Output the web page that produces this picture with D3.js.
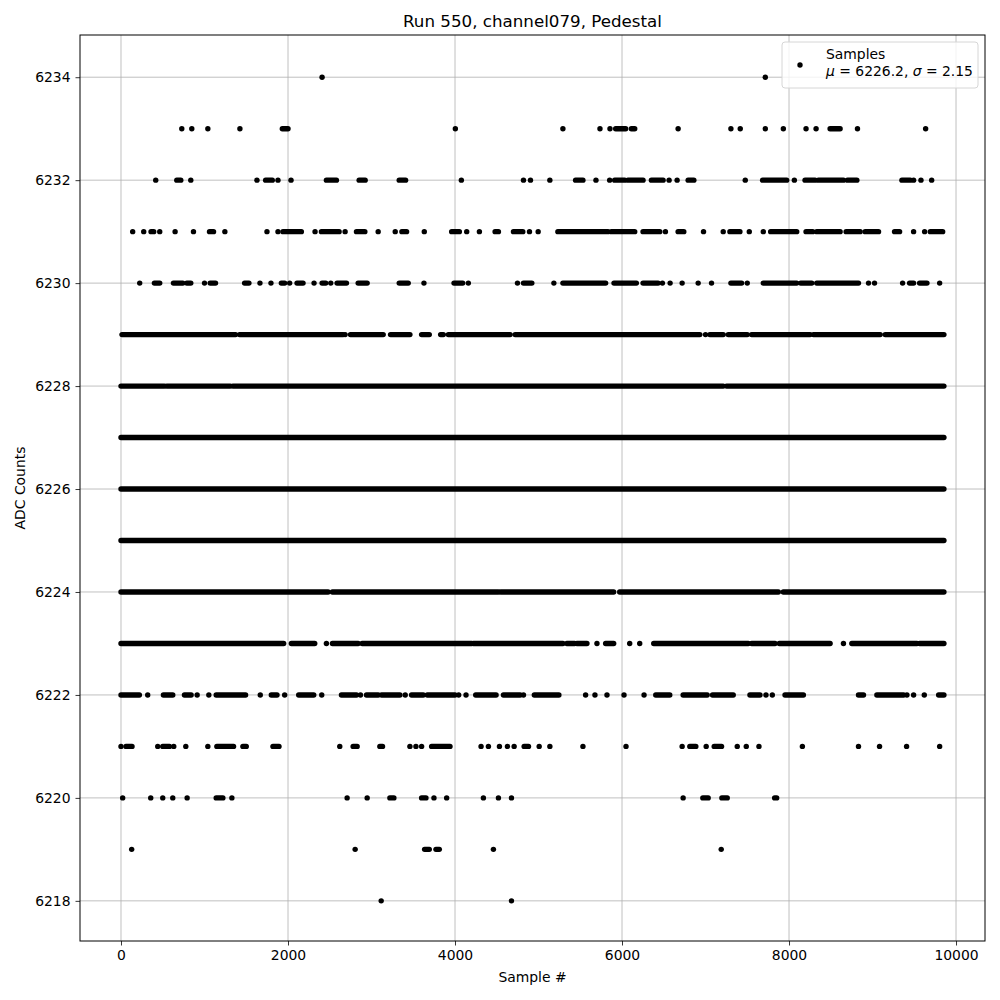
<!DOCTYPE html>
<html>
<head>
<meta charset="utf-8">
<script src="https://cdnjs.cloudflare.com/ajax/libs/d3/7.8.5/d3.min.js"></script>
<style>
  body { margin: 0; background: #fff; }
  svg text { font-family: "DejaVu Sans", sans-serif; fill: #000; }
</style>
</head>
<body>
<div id="chart"></div>
<script>
// samples, one array per ADC level
// a number is a single sample, a pair [a, b] is a run of consecutive samples
var adc6234 = [2408, 7716];
var adc6233 = [728, 848, 1040, 1424, [1932, 2000], 4004, 5292, 5736, 5856, [5924, 6044], [6112, 6152],
  6672, 7304, 7416, 7716, 7932, 8204, 8324, [8492, 8612], 8820, 9636];
var adc6232 = [416, [668, 716], 836, 1628, [1732, 1812], 1880, 2036, [2460, 2580], [2852, 2924], [3332, 3408],
  4076, 4820, 4904, 5136, [5444, 5532], 5688, 5852, [5912, 6032], [6072, 6252], [6352, 6492], 6564, 6660,
  [6792, 6860], 7476, [7684, 7972], 8064, [8192, 8312], [8352, 8652], [8700, 8812], [9352, 9452], 9492, 9580, 9708];
var adc6231 = [140, 272, [360, 392], 464, 648, 868, [1060, 1108], 1244, 1748, 1880, [1940, 2160], 2324,
  [2400, 2612], 2684, [2820, 2920], 3080, 3284, [3364, 3420], 3632, [3960, 4052], 4140, 4292, [4480, 4520],
  [4700, 4812], 4892, 4996, [5232, 5832], [5872, 6152], [6252, 6452], 6520, [6672, 6740], 6976, 7212,
  [7292, 7412], 7524, 7692, [7780, 8092], [8204, 8284], [8332, 8612], [8684, 8852], [8912, 9072],
  [9264, 9324], 9492, 9624, [9692, 9840]];
var adc6230 = [224, [400, 464], [628, 740], [788, 836], 1000, [1068, 1132], [1480, 1532], 1664, 1796,
  [1920, 1960], 2020, [2108, 2180], 2312, [2408, 2452], 2512, [2588, 2700], [2840, 2948], [3332, 3440], 3628,
  [3988, 4092], 4160, 4748, [4820, 4920], 5184, [5292, 5804], [5904, 6172], [6252, 6432], 6484, 6576, 6720,
  6912, 7072, [7304, 7432], 7500, [7692, 8092], [8140, 8272], [8332, 8832], 8952, 9024, 9360, [9444, 9492],
  [9564, 9652], 9804];
var adc6229 = [[12, 1372], [1420, 2660], 2684, [2748, 3140], [3228, 3460], [3600, 3692], [3828, 3860],
  [3920, 4660], [4720, 6932], 7000, [7052, 7212], [7272, 7500], [7552, 8252], [8292, 9092], [9152, 9855]];
var adc6228 = [[0, 520], [548, 1308], [1340, 7212], [7252, 9855]];
var adc6227 = [[0, 9855]];
var adc6226 = [[0, 9855]];
var adc6225 = [[0, 9855]];
var adc6224 = [[0, 2480], [2532, 4520], [4548, 5900], [5972, 7872], [7932, 9855]];
var adc6223 = [[0, 1948], [2040, 2320], 2460, [2532, 2840], [2888, 4200], [4220, 5292], [5340, 5432],
  [5460, 5580], 5700, [5804, 5900], 6092, 6212, [6380, 7512], [7552, 7832], [7884, 8492], 8652,
  [8752, 9532], [9564, 9855]];
var adc6222 = [[0, 220], 320, [508, 620], [760, 840], 912, 1052, [1140, 1492], 1668, [1800, 1868], 1960,
  [2128, 2308], 2404, [2640, 2820], 2868, [2940, 3080], [3120, 3340], 3404, [3480, 3620], [3668, 4000], 4044,
  4132, [4248, 4492], [4580, 4780], 4820, [4950, 5244], 5564, 5676, 5820, 6024, 6264, [6404, 6572],
  [6732, 7020], [7084, 7332], [7532, 7652], 7724, 7800, [7952, 8172], [8832, 8892], [9052, 9372], 9412,
  9492, 9620, [9792, 9855]];
var adc6221 = [0, [60, 132], 440, [500, 580], 632, 776, 1040, [1148, 1348], [1460, 1500], [1820, 1892], 2620,
  [2780, 2828], [3100, 3132], 3460, 3532, 3600, [3720, 3940], 4312, 4400, 4532, 4628, 4708, [4828, 4880],
  5008, 5136, 5532, 6048, 6720, [6812, 6884], 7008, [7104, 7192], 7380, 7488, 7640, 8160, 8832, 9084,
  9408, 9804];
var adc6220 = [20, 356, 500, 620, 792, [1140, 1220], 1328, 2708, 2948, [3220, 3268], [3600, 3652], 3748,
  3900, 4340, 4520, 4676, 6732, [6968, 7032], [7196, 7260], [7828, 7852]];
var adc6219 = [128, 2804, [3636, 3692], [3772, 3812], 4460, 7188];
var adc6218 = [3116, 4676];

var levels = [
  [6234, adc6234], [6233, adc6233], [6232, adc6232], [6231, adc6231], [6230, adc6230],
  [6229, adc6229], [6228, adc6228], [6227, adc6227], [6226, adc6226], [6225, adc6225],
  [6224, adc6224], [6223, adc6223], [6222, adc6222], [6221, adc6221], [6220, adc6220],
  [6219, adc6219], [6218, adc6218]
];

var xTicks = [0, 2000, 4000, 6000, 8000, 10000];
var yTicks = [6218, 6220, 6222, 6224, 6226, 6228, 6230, 6232, 6234];
var titleText = "Run 550, channel079, Pedestal";
var meanVal = "6226.2", sigmaVal = "2.15";

var W = 1000, H = 1000;
var axL = 80, axR = 985, axT = 35, axB = 941;
var r = 2.7;

var x = d3.scaleLinear().domain([-491, 10347]).range([axL, axR]);
var y = d3.scaleLinear().domain([6217.22, 6234.82]).range([axB, axT]);

var svg = d3.select("#chart").append("svg")
    .attr("width", W)
    .attr("height", H);

// grid
svg.append("g").selectAll("line").data(xTicks).enter().append("line")
    .attr("x1", function(d) { return x(d); }).attr("x2", function(d) { return x(d); })
    .attr("y1", axT).attr("y2", axB)
    .attr("stroke", "#b0b0b0").attr("stroke-width", 0.8);
svg.append("g").selectAll("line").data(yTicks).enter().append("line")
    .attr("y1", function(d) { return y(d); }).attr("y2", function(d) { return y(d); })
    .attr("x1", axL).attr("x2", axR)
    .attr("stroke", "#b0b0b0").attr("stroke-width", 0.8);

// flatten runs into marks
var marks = [];
levels.forEach(function(lv) {
  lv[1].forEach(function(s) {
    var a = Array.isArray(s) ? s[0] : s;
    var b = Array.isArray(s) ? s[1] : s;
    marks.push({ v: lv[0], a: a, b: b });
  });
});

var plot = svg.append("g");
plot.selectAll("rect.run").data(marks).enter().append("rect")
    .attr("class", "run")
    .attr("x", function(d) { return x(d.a) - r; })
    .attr("y", function(d) { return y(d.v) - r; })
    .attr("width", function(d) { return x(d.b) - x(d.a) + 2 * r; })
    .attr("height", 2 * r)
    .attr("rx", r).attr("ry", r)
    .attr("fill", "#000");

// axes
var xAxis = d3.axisBottom(x).tickValues(xTicks).tickSize(4.5).tickPadding(5).tickFormat(d3.format("d"));
var yAxis = d3.axisLeft(y).tickValues(yTicks).tickSize(4.5).tickPadding(5).tickFormat(d3.format("d"));

var gx = svg.append("g").attr("transform", "translate(0," + axB + ")").call(xAxis);
var gy = svg.append("g").attr("transform", "translate(" + axL + ",0)").call(yAxis);
[gx, gy].forEach(function(g) {
  g.select(".domain").remove();
  g.selectAll(".tick line").attr("stroke", "#000").attr("stroke-width", 0.8);
  g.selectAll(".tick text").style("font-size", "13.9px").attr("fill", "#000");
});

svg.append("rect")
    .attr("x", axL).attr("y", axT)
    .attr("width", axR - axL).attr("height", axB - axT)
    .attr("fill", "none").attr("stroke", "#000").attr("stroke-width", 1);

// labels
svg.append("text")
    .attr("x", (axL + axR) / 2).attr("y", 27)
    .attr("text-anchor", "middle")
    .style("font-size", "16.7px")
    .text(titleText);
svg.append("text")
    .attr("x", (axL + axR) / 2).attr("y", 982)
    .attr("text-anchor", "middle")
    .style("font-size", "13.9px")
    .text("Sample #");
svg.append("text")
    .attr("transform", "translate(25," + ((axT + axB) / 2) + ") rotate(-90)")
    .attr("text-anchor", "middle")
    .style("font-size", "13.9px")
    .text("ADC Counts");

// legend
var lg = svg.append("g");
lg.append("rect")
    .attr("x", 782).attr("y", 42).attr("width", 196).attr("height", 46)
    .attr("rx", 3).attr("fill", "#fff").attr("fill-opacity", 0.8)
    .attr("stroke", "#d6d6d6").attr("stroke-width", 1);
lg.append("circle").attr("cx", 800).attr("cy", 65).attr("r", r).attr("fill", "#000");
lg.append("text").attr("x", 826).attr("y", 59).style("font-size", "13.9px").text("Samples");
var t2 = lg.append("text").attr("x", 826).attr("y", 76).style("font-size", "13.9px");
t2.append("tspan").style("font-style", "italic").text("\u03bc");
t2.append("tspan").text(" = " + meanVal + ", ");
t2.append("tspan").style("font-style", "italic").text("\u03c3");
t2.append("tspan").text(" = " + sigmaVal);
</script>
</body>
</html>
